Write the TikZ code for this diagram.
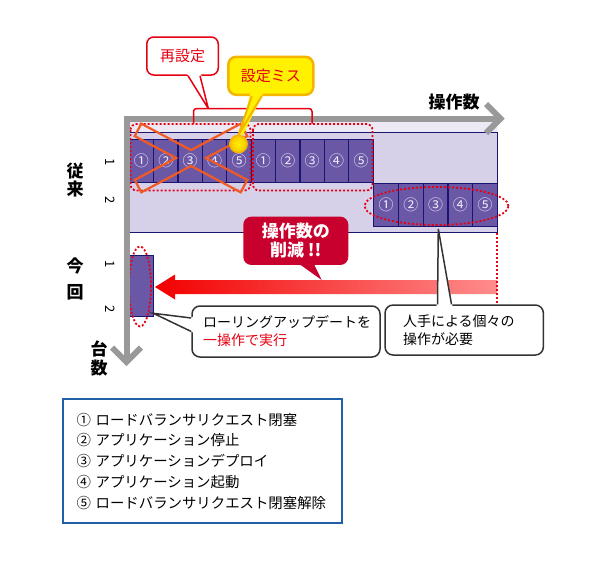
\documentclass[tikz,border=0pt]{standalone}
\usepackage{fontspec}
\setmainfont{Noto Sans CJK JP}
\usetikzlibrary{shapes.geometric,calc}
\definecolor{lav}{HTML}{D6D0E8}
\definecolor{lavlt}{HTML}{ECE9F4}
\definecolor{cellc}{HTML}{6A58A6}
\definecolor{navy}{HTML}{1A1670}
\definecolor{axisg}{HTML}{999999}
\definecolor{redd}{HTML}{E60012}
\definecolor{crimson}{HTML}{C8002D}
\definecolor{xorange}{HTML}{F25A24}
\definecolor{yel}{HTML}{FFF100}
\definecolor{yelb}{HTML}{F5B400}
\definecolor{legblue}{HTML}{2060A8}
\definecolor{numc}{HTML}{EEEAF8}
\definecolor{darkline}{HTML}{333333}
\tikzset{
  cellbox/.style={draw=navy, line width=1.2pt, fill=cellc, minimum height=43pt,
    inner sep=0pt, anchor=north west, text=numc, font=\fontsize{15}{15}\selectfont},
  reddot/.style={draw=redd, line width=1.8pt, dash pattern=on 2pt off 2pt},
  xline/.style={draw=xorange, line width=2.2pt, line join=miter},
  axisline/.style={draw=axisg, line width=6pt},
  rownum/.style={font=\fontsize{13}{13}\selectfont, rotate=-90},
  bigbold/.style={font=\bfseries\fontsize{17}{17}\selectfont},
  callw/.style={draw=darkline, fill=white, line width=1.5pt, rounded corners=8pt,
    align=left, font=\fontsize{14}{18}\selectfont},
}
\begin{document}
\begin{tikzpicture}[x=1pt,y=-1pt]
\useasboundingbox (0,0) rectangle (600,560);

% old (従来) area
\fill[lavlt] (128,121) rectangle (497,131.5);
\node[draw=navy, fill=lav, line width=1.2pt, minimum width=369pt, minimum height=100.5pt,
      inner sep=0pt, anchor=north west] (oldbox) at (128,131.5) {};
\foreach \i/\n in {1/①,2/②,3/③,4/④,5/⑤,6/①,7/②,8/③,9/④,10/⑤}
  \node[cellbox, minimum width=24.4pt] (ra\i) at ({128.6+(\i-1)*24.4},139) {\n};
\foreach \i/\n in {1/①,2/②,3/③,4/④,5/⑤}
  \node[cellbox, minimum width=24.8pt] (rb\i) at ({373+(\i-1)*24.8},183) {\n};

% new (今回) bar
\node[draw=navy, fill=cellc, line width=1.2pt, minimum width=24pt, minimum height=61pt,
      inner sep=0pt, anchor=north west] (newbar) at (129,255) {};

% big red arrow
\shade[left color=red!95!black, right color=red!45!white]
  (497,280) -- (175,280) -- (175,274.5) -- (155,287) -- (175,299.5) -- (175,294) -- (497,294) -- cycle;

% dotted marks
\draw[reddot, rounded corners=6pt] (130.5,124) rectangle (250.5,190.5);
\draw[reddot, rounded corners=6pt] (253,124) rectangle (372.5,190.5);
\node[reddot, ellipse, minimum width=144pt, minimum height=38pt, inner sep=0pt] (ellold) at (436.5,206) {};
\node[reddot, ellipse, minimum width=22pt, minimum height=80pt, inner sep=0pt] (ellnew) at (140,286.5) {};
\coordinate (vdtop) at (497,233);
\coordinate (vdbot) at (497,303);
\draw[reddot] (vdtop) -- (vdbot);

% X over first group
\draw[xline] (141.3,123.7) -- (191,150.1) -- (240.7,123.7) -- (247.3,136.1) -- (205.9,158)
  -- (247.3,179.9) -- (240.7,192.3) -- (191,165.9) -- (141.3,192.3) -- (134.7,179.9)
  -- (176.1,158) -- (134.7,136.1) -- cycle;

% axes
\draw[axisline] (126.5,362) -- (126.5,118.5) -- (501,118.5);
\draw[axisline, line join=miter] (486,104) -- (500.5,118.5) -- (486,133);
\draw[axisline, line join=miter] (112,347.5) -- (126.5,362) -- (141,347.5);

% axis labels
\node[bigbold] (lblops) at (454,102) {操作数};
\node[bigbold] (lblold1) at (75,171.5) {従};
\node[bigbold] (lblold2) at (75,189.5) {来};
\node[bigbold] (lblnew1) at (75,265.5) {今};
\node[bigbold] (lblnew2) at (75,292.5) {回};
\node[bigbold] (lblunits1) at (99,349) {台};
\node[bigbold] (lblunits2) at (99,368.5) {数};
\node[rownum] (rn1) at (110,162) {1};
\node[rownum] (rn2) at (110,200) {2};
\node[rownum] (rn3) at (110,264) {1};
\node[rownum] (rn4) at (110,309) {2};

% bracket + 再設定 callout
\draw[redd, line width=1.5pt, rounded corners=3pt] (193.5,123.5) -- (193.5,108.5) -- (312,108.5) -- (312,123.5);
\node[draw=redd, fill=white, line width=1.5pt, rounded corners=7pt, minimum width=71.5pt,
      minimum height=38pt, text=redd, font=\fontsize{15}{15}\selectfont] (resetc) at (182.5,56) {再設定};
\coordinate (resettip) at (208.3,108.5);
\fill[white] ($(resetc.south)+(4.5,-2)$) -- (resettip) -- ($(resetc.south)+(18.5,-2)$) -- cycle;
\draw[redd, line width=1.5pt, line join=round] ($(resetc.south)+(5.5,0)$) -- (resettip) -- ($(resetc.south)+(17.5,0)$);

% 設定ミス callout
\node[draw=yelb, fill=yel, line width=2.5pt, rounded corners=8pt, minimum width=85pt,
      minimum height=38pt, text=redd, font=\fontsize{15}{15}\selectfont] (missc) at (270.8,75.8) {設定ミス};
\node[circle, draw=yelb, line width=1.5pt, inner color=yel, outer color=yelb!70!yel,
      minimum size=17pt, inner sep=0pt] (misdot) at (238.5,144) {};
\fill[yel] ($(missc.south)+(-20.5,-3)$) -- (misdot.center) -- ($(missc.south)+(-7.5,-3)$) -- cycle;
\draw[yelb, line width=2pt, line join=round] ($(missc.south)+(-19,0)$) -- (misdot.north) -- ($(missc.south)+(-9,0)$);
\node[circle, draw=yelb, line width=1.5pt, inner color=yel, outer color=yelb!70!yel,
      minimum size=17pt, inner sep=0pt] (misdot2) at (misdot) {};

% 削減 callout
\node[fill=crimson, rounded corners=8pt, minimum width=105pt, minimum height=48.3pt,
      text=white, align=center, font=\bfseries\fontsize{17}{19}\selectfont] (cutc) at (295.8,240.8) {操作数の\\削減 !!};
\coordinate (cuttip) at (321.7,280);
\fill[crimson] ($(cutc.south)+(0.9,-3)$) -- (cuttip) -- ($(cutc.south)+(17.2,-3)$) -- cycle;

% ローリング callout
\node[callw, minimum width=188pt, minimum height=51pt, text width=166pt, inner xsep=11pt] (rollc) at (286,331.5)
  {ローリングアップデートを\\\textcolor{redd}{一操作で実行}};
\coordinate (rolltip) at (153.3,313.3);
\fill[white] ($(rollc.west)+(2,-14.5)$) -- (rolltip) -- ($(rollc.west)+(2,1)$) -- cycle;
\draw[darkline, line width=1.5pt] ($(rollc.west)+(0,-13.5)$) -- (rolltip) -- (rollc.west);

% 人手 callout
\node[callw, minimum width=158.3pt, minimum height=50pt, text width=122.3pt, inner xsep=18pt] (manc) at (464.2,330)
  {人手による個々の\\操作が必要};
\coordinate (mantip) at (438.3,229);
\fill[white] ($(manc.north)+(-27.7,2)$) -- (mantip) -- ($(manc.north)+(-11.7,2)$) -- cycle;
\draw[darkline, line width=1.5pt] ($(manc.north)+(-26.7,0)$) -- (mantip) -- ($(manc.north)+(-12.7,0)$);

% legend
\node[draw=legblue, line width=2pt, minimum width=278.4pt, minimum height=124pt,
      text width=252pt, inner xsep=13.2pt, align=left, font=\fontsize{14.4}{20.8}\selectfont] (legend) at (202.5,461.3)
  {① ロードバランサリクエスト閉塞\\② アプリケーション停止\\③ アプリケーションデプロイ\\④ アプリケーション起動\\⑤ ロードバランサリクエスト閉塞解除};
\end{tikzpicture}
\end{document}
